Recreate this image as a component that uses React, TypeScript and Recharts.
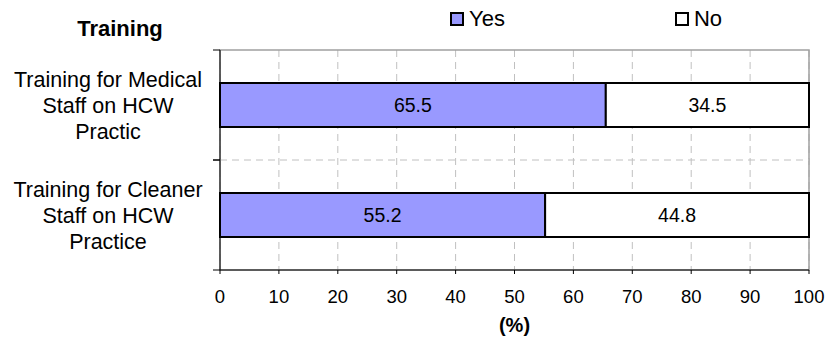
import React from "react";
import {
  BarChart,
  Bar,
  CartesianGrid,
  XAxis,
  YAxis,
  LabelList,
  ReferenceArea,
  ReferenceLine,
} from "recharts";

const FONT = "'Liberation Sans', Arial, sans-serif";

// categories (each label split into the lines it is printed on)
const categories = ["Medical", "Cleaner"];
const categoryLines: string[][] = [
  ["Training for Medical", "Staff on HCW", "Practic"],
  ["Training for Cleaner", "Staff on HCW", "Practice"],
];

// percentages per category
const yesValues = [65.5, 55.2];
const noValues = [34.5, 44.8];

const xTicks = [0, 10, 20, 30, 40, 50, 60, 70, 80, 90, 100];

const SERIES = [
  { key: "yes", name: "Yes", fill: "#9999FF" },
  { key: "no", name: "No", fill: "#FFFFFF" },
];

const data = categories.map((c, i) => ({
  name: c,
  yes: yesValues[i],
  no: noValues[i],
}));

// multi-line category label plus the tick marks at the band edges
const CategoryTick = (props: any) => {
  const { x, y, payload, index } = props;
  const half = payload?.offset ?? 0;
  const lines = categoryLines[index] || [payload.value];
  const cx = x - 112;
  return (
    <g>
      <line x1={x - 7} x2={x} y1={y - half} y2={y - half} stroke="#000" />
      <line x1={x - 7} x2={x} y1={y + half} y2={y + half} stroke="#000" />
      <text
        x={cx}
        y={y}
        textAnchor="middle"
        fontFamily={FONT}
        fontSize={21.5}
        fill="#000"
      >
        {lines.map((l, i) => (
          <tspan key={i} x={cx} y={y - 18 + i * 26}>
            {l}
          </tspan>
        ))}
      </text>
    </g>
  );
};

export default function App() {
  return (
    <div
      style={{
        position: "absolute",
        left: 0,
        top: 0,
        width: 830,
        height: 342,
        background: "#fff",
        fontFamily: FONT,
      }}
    >
      {/* title */}
      <div
        style={{
          position: "absolute",
          left: 60,
          top: 19,
          width: 120,
          textAlign: "center",
          fontSize: 22,
          lineHeight: "20px",
          fontWeight: 700,
        }}
      >
        Training
      </div>

      {/* legend */}
      <div
        style={{
          position: "absolute",
          top: 7,
          left: 450,
          display: "flex",
          alignItems: "center",
          gap: 170,
          fontSize: 22,
          lineHeight: "24px",
        }}
      >
        {SERIES.map((s) => (
          <div key={s.key} style={{ display: "flex", alignItems: "center", gap: 5 }}>
            <div
              style={{
                width: 10,
                height: 10,
                background: s.fill,
                border: "2px solid #000",
              }}
            />
            {s.name}
          </div>
        ))}
      </div>

      <BarChart
        width={830}
        height={342}
        data={data}
        layout="vertical"
        margin={{ top: 50, right: 21, bottom: 22, left: 0 }}
        barCategoryGap="30%"
      >
        <CartesianGrid stroke="#c0c0c0" strokeDasharray="7 5" horizontal={false} />
        {categories.slice(1).map((c) => (
          <ReferenceLine
            key={c}
            y={c}
            position="start"
            stroke="#c0c0c0"
            strokeDasharray="7 5"
          />
        ))}
        <ReferenceArea x1={0} x2={100} fill="none" stroke="#a0a0a0" strokeWidth={1.5} />
        <XAxis
          type="number"
          domain={[0, 100]}
          ticks={xTicks}
          height={50}
          axisLine={{ stroke: "#000" }}
          tickLine={{ stroke: "#000" }}
          tickSize={4}
          tickMargin={16}
          tick={{ fontSize: 18.5, fill: "#000", fontFamily: FONT }}
          label={{
            value: "(%)",
            position: "bottom",
            offset: -2,
            fontSize: 20,
            fontWeight: 700,
            fill: "#000",
            fontFamily: FONT,
          }}
        />
        <YAxis
          type="category"
          dataKey="name"
          width={220}
          axisLine={{ stroke: "#000" }}
          tickLine={false}
          tickSize={0}
          tickMargin={0}
          tick={<CategoryTick />}
        />
        {SERIES.map((s) => (
          <Bar
            key={s.key}
            dataKey={s.key}
            name={s.name}
            stackId="a"
            fill={s.fill}
            stroke="#000"
            strokeWidth={2}
            isAnimationActive={false}
          >
            <LabelList
              dataKey={s.key}
              position="center"
              fontSize={19.5}
              fill="#000"
              fontFamily={FONT}
            />
          </Bar>
        ))}
      </BarChart>
    </div>
  );
}
